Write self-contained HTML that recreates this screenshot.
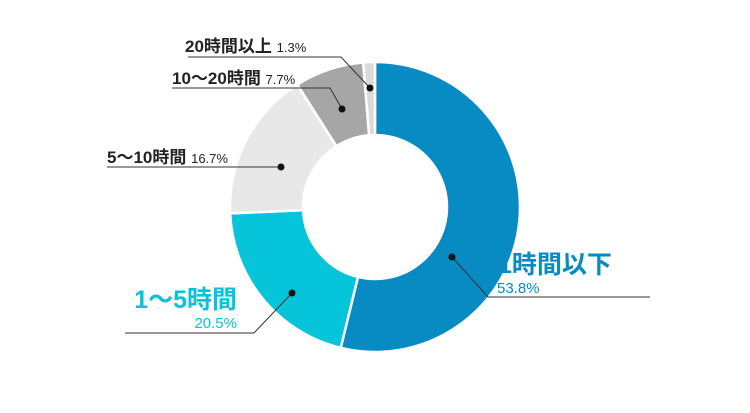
<!DOCTYPE html>
<html><head><meta charset="utf-8"><style>
body{margin:0;background:#fff}
svg{display:block;font-family:"Liberation Sans","Noto Sans CJK JP",sans-serif}
</style></head><body>
<svg width="750" height="413" viewBox="0 0 750 413">
<g id="slices"></g>
<g id="labels">
<g>
<polyline points="452,257 488,297 650,297" fill="none" stroke="#333" stroke-width="1"/>
<circle cx="452" cy="257" r="3.5" fill="#111"/>
<text x="498" y="273" font-size="25" font-weight="bold" fill="#078bc2">1時間以下</text>
<text x="497" y="293" font-size="15" fill="#078bc2">53.8%</text>
</g>
<g>
<polyline points="292,293 254,333 125,333" fill="none" stroke="#333" stroke-width="1"/>
<circle cx="292" cy="293" r="3.5" fill="#111"/>
<text x="237" y="308" font-size="25" font-weight="bold" fill="#06c4d9" text-anchor="end">1～5時間</text>
<text x="237" y="328" font-size="15" fill="#06c4d9" text-anchor="end">20.5%</text>
</g>
<g>
<polyline points="281,167 107,167" fill="none" stroke="#333" stroke-width="1"/>
<circle cx="281" cy="167" r="3.5" fill="#111"/>
<text x="107" y="163" font-size="17" font-weight="bold" fill="#222">5～10時間 <tspan font-size="13" font-weight="normal">16.7%</tspan></text>
</g>
<g>
<polyline points="342,109 330,88 172,88" fill="none" stroke="#333" stroke-width="1"/>
<circle cx="342" cy="109" r="3.5" fill="#111"/>
<text x="172" y="84" font-size="17" font-weight="bold" fill="#222">10～20時間 <tspan font-size="13" font-weight="normal">7.7%</tspan></text>
</g>
<g>
<polyline points="370,88 341,57 188,57" fill="none" stroke="#333" stroke-width="1"/>
<circle cx="370" cy="88" r="3.5" fill="#111"/>
<text x="185" y="52" font-size="17" font-weight="bold" fill="#222">20時間以上 <tspan font-size="13" font-weight="normal">1.3%</tspan></text>
</g>
</g>
</svg>
<script>
const categories=["1時間以下","1～5時間","5～10時間","10～20時間","20時間以上"];
const values=[53.8,20.5,16.7,7.7,1.3];
const colors=["#078bc2","#06c4d9","#e8e8e8","#a6a6a6","#dadada"];
const cx=375,cy=207,R=145,r=72;
const g=document.getElementById('slices');
const total=values.reduce((a,b)=>a+b,0);
function pt(a,rad){return [cx+rad*Math.sin(a),cy-rad*Math.cos(a)];}
let acc=0;
values.forEach((v,i)=>{
  const a0=acc/total*2*Math.PI;acc+=v;const a1=acc/total*2*Math.PI;
  const large=(a1-a0)>Math.PI?1:0;
  const p0=pt(a0,R),p1=pt(a1,R),p2=pt(a1,r),p3=pt(a0,r);
  const p=document.createElementNS('http://www.w3.org/2000/svg','path');
  p.setAttribute('d',`M${p0[0]},${p0[1]}A${R},${R} 0 ${large} 1 ${p1[0]},${p1[1]}L${p2[0]},${p2[1]}A${r},${r} 0 ${large} 0 ${p3[0]},${p3[1]}Z`);
  p.setAttribute('fill',colors[i]);
  p.setAttribute('stroke','#fff');
  p.setAttribute('stroke-width','2.5');
  
  
  g.appendChild(p);
});
</script>
</body></html>
